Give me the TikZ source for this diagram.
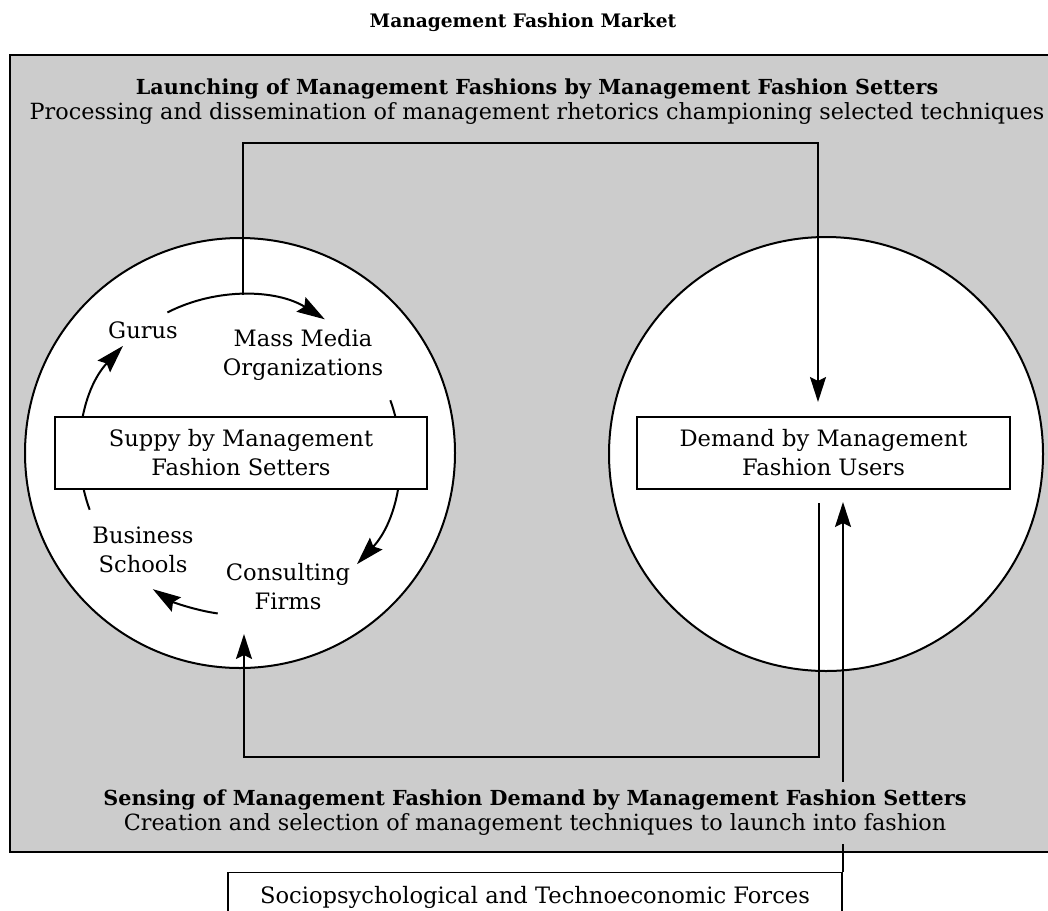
\documentclass[tikz,border=0pt]{standalone}
\usepackage{fontspec}
\setmainfont{DejaVu Serif}
\usepackage{tikz}
\usetikzlibrary{positioning}
\usetikzlibrary{arrows.meta}

\definecolor{panelgrey}{gray}{0.8}
\tikzset{
  txt/.style={font=\fontsize{11.3}{14.5}\selectfont, align=center, inner sep=0pt},
  head/.style={font=\bfseries\fontsize{9.3}{12}\selectfont, inner sep=0pt},
  banner/.style={fill=panelgrey, align=center, inner xsep=0pt, inner ysep=4pt, font=\fontsize{11.15}{12.5}\selectfont},
  circ/.style={draw, line width=1pt, fill=white, circle, inner sep=0pt},
  labelbox/.style={draw, line width=0.6pt, fill=white, rectangle, inner sep=0pt, txt},
  flow/.style={line width=1pt, -{Stealth[length=12.5pt,width=8pt,inset=2pt]}},
  cyc/.style={line width=1pt, -{Stealth[length=14pt,width=8.5pt,inset=2pt]}}
}
\newcommand{\bannerhead}[1]{{\bfseries\fontsize{10.35}{12.5}\selectfont #1}}

\begin{document}
\begin{tikzpicture}[x=0.5pt,y=0.5pt]
 \useasboundingbox (0,0) rectangle (1048,-910);
 \node[head] (title) at (523,-22) {Management Fashion Market};
 \fill[panelgrey] (10,-55) rectangle (1048,-852);
 \draw[line width=1pt] (1048,-55) -- (10,-55) -- (10,-852) -- (1048,-852);
 \node[banner] (launch) at (537,-102) {\bannerhead{Launching of Management Fashions by Management Fashion Setters}\\Processing and dissemination of management rhetorics championing selected techniques};
 % the two markets
 \node[circ, minimum size=215pt] (supplyCirc) at (240,-453) {};
 \node[circ, minimum size=217pt] (demandCirc) at (826,-454) {};
 % cycle of the setters
 \coordinate (cycC) at (240,-455);
 \draw[cyc] ([shift={(117:160)}]cycC) arc[start angle=117, end angle=58, radius=160];
 \draw[cyc] ([shift={(20:160)}]cycC) arc[start angle=20, end angle=-43, radius=160];
 \draw[cyc] ([shift={(-98:160)}]cycC) arc[start angle=-98, end angle=-123, radius=160];
 \draw[cyc] ([shift={(200:160)}]cycC) arc[start angle=200, end angle=137, radius=160];
 \node[labelbox, minimum width=186pt, minimum height=36pt] (supply) at (241,-453) {Suppy by Management\\Fashion Setters};
 \node[labelbox, minimum width=186.5pt, minimum height=36pt] (demand) at (823.5,-453) {Demand by Management\\Fashion Users};
 \node[txt] (gurus) at (143,-330) {Gurus};
 \node[txt] (media) at (303,-355) {Mass Media\\Organizations};
 \node[txt] (schools) at (143,-550) {Business\\Schools};
 \node[txt] (consult) at (288,-587) {Consulting\\Firms};
 \node[labelbox, minimum width=307pt, minimum height=28pt, anchor=north] (forces) at (535,-872) {\raisebox{6pt}{Sociopsychological and Technoeconomic Forces}};
 % launching and sensing loops
 \coordinate (launchL) at (243,-295);
 \coordinate (launchTop) at (530,-143);
 \coordinate (launchR) at (818,-402);
 \draw[flow] (launchL) |- (launchTop) -| (launchR);
 \coordinate (senseR) at (819,-503);
 \coordinate (senseBot) at (530,-757);
 \coordinate (senseL) at (244,-634);
 \draw[flow] (senseR) |- (senseBot) -| (senseL);
 \coordinate (forcesIn) at (843,-502);
 \draw[flow] (forces.north east -| forcesIn) -- (forcesIn);
 \node[banner] (sense) at (535,-813) {\bannerhead{Sensing of Management Fashion Demand by Management Fashion Setters}\\Creation and selection of management techniques to launch into fashion};
\end{tikzpicture}
\end{document}
